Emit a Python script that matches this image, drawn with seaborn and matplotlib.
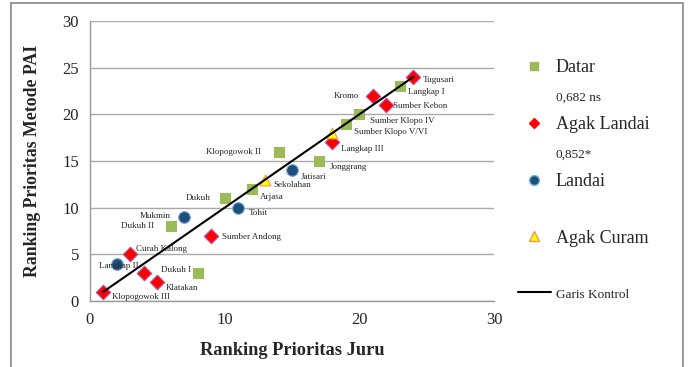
import numpy as np
import pandas as pd
import matplotlib
matplotlib.use("Agg")
import matplotlib.pyplot as plt
from matplotlib.lines import Line2D
from matplotlib.patches import Rectangle
import seaborn as sns

# --- DATA ---
datar_names = ["Langkap I", "Sumber Klopo IV", "Sumber Klopo V/VI", "Klopogowok II",
               "Jonggrang", "Arjasa", "Dukuh", "Dukuh II", ""]
datar_x = [23, 20, 19, 14, 17, 12, 10, 6, 8]
datar_y = [23, 20, 19, 16, 15, 12, 11, 8, 3]

landai_agak_names = ["Tugusari", "Kromo", "Sumber Kebon", "Langkap III", "Sumber Andong",
                     "Curah Kalong", "Dukuh I", "Klatakan", "Klopogowok III"]
landai_agak_x = [24, 21, 22, 18, 9, 3, 4, 5, 1]
landai_agak_y = [24, 22, 21, 17, 7, 5, 3, 2, 1]

landai_names = ["Jatisari", "Tohit", "Mukmin", "Langkap II"]
landai_x = [15, 11, 7, 2]
landai_y = [14, 10, 9, 4]

curam_names = ["Sekolahan", ""]
curam_x = [13, 18]
curam_y = [13, 18]

kontrol_x = [1, 24]
kontrol_y = [1, 24]

categories = ["Datar", "Agak Landai", "Landai", "Agak Curam"]
x_ticks = [0, 10, 20, 30]
y_ticks = [0, 5, 10, 15, 20, 25, 30]

# label offsets in points (dx, dy) per name
label_offsets = {
    "Langkap I": (6, -4), "Sumber Klopo IV": (8, -5), "Sumber Klopo V/VI": (6, -6),
    "Klopogowok II": (-52, 0), "Jonggrang": (8, -4), "Arjasa": (6, -6), "Dukuh": (-28, 0),
    "Dukuh II": (-36, 0), "Tugusari": (7, -2), "Kromo": (-28, 0), "Sumber Kebon": (5, -1),
    "Langkap III": (6, -5), "Sumber Andong": (8, -1), "Curah Kalong": (4, 4), "Dukuh I": (12, 2),
    "Klatakan": (6, -4), "Klopogowok III": (6, -4), "Jatisari": (6, -5), "Tohit": (8, -4),
    "Mukmin": (-32, 1), "Langkap II": (-13, -2), "Sekolahan": (6, -4),
}

df = pd.concat([
    pd.DataFrame({"x": datar_x, "y": datar_y, "name": datar_names, "kelas": "Datar"}),
    pd.DataFrame({"x": landai_agak_x, "y": landai_agak_y, "name": landai_agak_names, "kelas": "Agak Landai"}),
    pd.DataFrame({"x": landai_x, "y": landai_y, "name": landai_names, "kelas": "Landai"}),
    pd.DataFrame({"x": curam_x, "y": curam_y, "name": curam_names, "kelas": "Agak Curam"}),
], ignore_index=True)

sns.set_style("white")
plt.rcParams['font.family'] = ['Liberation Serif', 'DejaVu Serif']

colors = {"Datar": "#9BBB59", "Agak Landai": "#FF0000", "Landai": "#1F4E79", "Agak Curam": "#FFFF00"}
edges = {"Datar": "#9BBB59", "Agak Landai": "#B05AA0", "Landai": "#6FA8DC", "Agak Curam": "#F79646"}
markers = {"Datar": "s", "Agak Landai": "D", "Landai": "o", "Agak Curam": "^"}
sizes = {"Datar": 45, "Agak Landai": 55, "Landai": 70, "Agak Curam": 60}

fig = plt.figure(figsize=(6.9, 3.67), dpi=100)
ax = fig.add_axes([90 / 690, 1 - 301 / 367, 404 / 690, 280 / 367])

for kls in categories:
    sub = df[df["kelas"] == kls]
    sns.scatterplot(data=sub, x="x", y="y", marker=markers[kls], color=colors[kls],
                    edgecolor=edges[kls], linewidth=0.8, s=sizes[kls], ax=ax, zorder=3, legend=False)

sns.lineplot(x=kontrol_x, y=kontrol_y, color="black", lw=1.5, ax=ax, zorder=4)

for _, row in df.iterrows():
    if row["name"]:
        dx, dy = label_offsets.get(row["name"], (6, -4))
        ax.annotate(row["name"], (row["x"], row["y"]), xytext=(dx, dy),
                    textcoords="offset points", fontsize=6.5, va="center", ha="left", zorder=5)

ax.set_xlim(0, 30)
ax.set_ylim(0, 30)
ax.set_xticks(x_ticks)
ax.set_yticks(y_ticks)
ax.tick_params(axis="both", labelsize=12, length=4, color="#999999", direction="out", pad=4)
ax.yaxis.grid(True, color="#AAAAAA", lw=1)
ax.xaxis.grid(False)
for side in ["top", "right"]:
    ax.spines[side].set_visible(False)
for side in ["left", "bottom"]:
    ax.spines[side].set_color("#999999")
    ax.spines[side].set_linewidth(1)

ax.set_xlabel("Ranking Prioritas Juru", fontsize=13.2, fontweight="bold", labelpad=10)
ax.set_ylabel("Ranking Prioritas Metode PAI", fontsize=12.8, fontweight="bold", labelpad=15)

# legend (custom rows incl. stats text)
blank = Line2D([], [], linestyle="none")
handles = [
    Line2D([], [], marker="s", linestyle="none", color=colors["Datar"], markersize=6),
    blank,
    Line2D([], [], marker="D", linestyle="none", color=colors["Agak Landai"], markersize=5.5),
    blank,
    Line2D([], [], marker="o", linestyle="none", color=colors["Landai"], markeredgecolor=edges["Landai"], markersize=7),
    blank,
    Line2D([], [], marker="^", linestyle="none", color=colors["Agak Curam"], markeredgecolor=edges["Agak Curam"], markersize=7),
    blank,
    Line2D([], [], color="black", lw=1.5),
]
labels = ["Datar", "0,682 ns", "Agak Landai", "0,852*", "Landai", " ", "Agak Curam", " ", "Garis Kontrol"]
leg = fig.legend(handles, labels, loc="upper left", bbox_to_anchor=(518 / 690, 1 - 59 / 367),
                 frameon=False, fontsize=13, labelspacing=0.68, handlelength=1.8, handletextpad=0.3,
                 borderpad=0, borderaxespad=0)
for t in leg.get_texts():
    if t.get_text() in ("0,682 ns", "0,852*", "Garis Kontrol"):
        t.set_fontsize(9.5)
    elif t.get_text() == " ":
        t.set_fontsize(8)

fig.patches.append(Rectangle((11 / 690, -0.05), 672 / 690, 1.05 - 3 / 367, transform=fig.transFigure,
                             fill=False, edgecolor="#888888", lw=1.2))

fig.savefig("out.png", dpi=100)
